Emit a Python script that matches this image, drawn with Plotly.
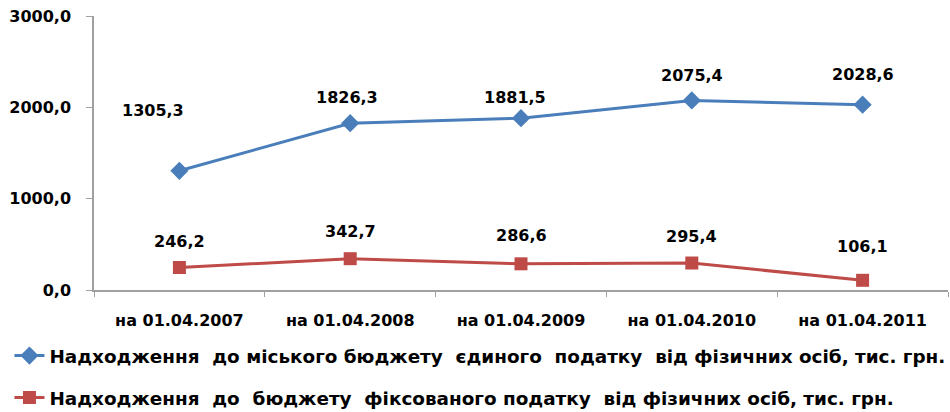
import plotly.graph_objects as go

categories = ["на 01.04.2007", "на 01.04.2008", "на 01.04.2009", "на 01.04.2010", "на 01.04.2011"]
series1_name = "Надходження  до міського бюджету  єдиного  податку  від фізичних осіб, тис. грн."
series1 = [1305.3, 1826.3, 1881.5, 2075.4, 2028.6]
series2_name = "Надходження  до  бюджету  фіксованого податку  від фізичних осіб, тис. грн."
series2 = [246.2, 342.7, 286.6, 295.4, 106.1]
y_ticks = [0, 1000, 2000, 3000]

# label offsets (styling)
s1_shift = [(-26, 60), (-3, 26), (-6, 21), (0, 25), (0, 30)]
s2_shift = [(0, 26), (0, 27), (0, 28), (0, 27), (0, 34)]

blue = "#4A7EBB"
red = "#BE4B48"
font_main = "DejaVu Sans, Arial, sans-serif"

fig = go.Figure()
fig.add_trace(go.Scatter(
    x=categories, y=series1, name=series1_name, mode="lines+markers",
    line=dict(color=blue, width=3), marker=dict(symbol="diamond", size=14, color=blue),
    legendgroup="a"))
fig.add_trace(go.Scatter(
    x=categories, y=series2, name=series2_name, mode="lines+markers",
    line=dict(color=red, width=3), marker=dict(symbol="square", size=13, color=red),
    legendgroup="b"))

def fmt(v):
    return f"{v:.1f}".replace(".", ",")

for vals, shifts in ((series1, s1_shift), (series2, s2_shift)):
    for c, v, (dx, dy) in zip(categories, vals, shifts):
        fig.add_annotation(x=c, y=v, text=fmt(v), showarrow=False,
                           xshift=dx, yshift=dy,
                           font=dict(family=font_main, size=16, color="black", weight="bold"))

fig.update_layout(
    width=950, height=412,
    margin=dict(l=94, r=2, t=16, b=122, autoexpand=False),
    paper_bgcolor="white", plot_bgcolor="white",
    separators=", ",
    showlegend=True,
    legend=dict(
        x=-0.099, xanchor="left", y=-0.172, yanchor="top",
        orientation="v", traceorder="grouped", tracegroupgap=15,
        font=dict(family=font_main, size=18.4, color="black", weight="bold"),
        itemwidth=30, bgcolor="rgba(0,0,0,0)",
    ),
)
fig.update_xaxes(
    type="category", showgrid=False, showline=True, linecolor="#A0A0A0", linewidth=1.5,
    ticks="outside", tickson="boundaries", ticklen=5, tickcolor="#A0A0A0",
    tickfont=dict(family=font_main, size=16, color="black", weight="bold"),
    range=[-0.5, 4.5], automargin=False, ticklabelstandoff=15,
)
fig.update_yaxes(
    range=[0, 3000], tickvals=y_ticks, tickformat=".1f",
    showgrid=False, showline=True, linecolor="#A0A0A0", linewidth=1.5,
    ticks="outside", ticklen=6, tickcolor="#A0A0A0",
    tickfont=dict(family=font_main, size=16, color="black", weight="bold"),
    zeroline=False, automargin=False, ticklabelstandoff=12, ticklabeloverflow="allow",
)

fig.write_html("out.html", config={"displayModeBar": False},
               post_script="document.body.style.margin='0';")
